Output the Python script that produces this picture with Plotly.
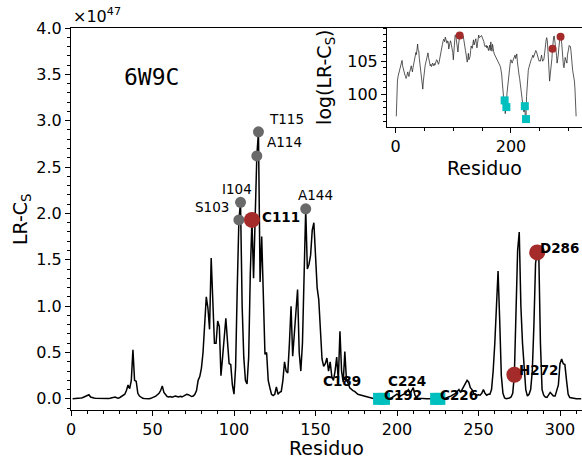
import numpy as np
import plotly.graph_objects as go

# ---------------- data ----------------
residues = list(range(1, 314))
# LR-Cs per residue, in units of 1e47
lrcs = [
    0.00001, 0.0006, 0.002, 0.004, 0.006, 0.009, 0.013, 0.02, 0.03, 0.042,
    0.045, 0.02, 0.012, 0.009, 0.006, 0.005, 0.004, 0.003, 0.004, 0.006,
    0.008, 0.005, 0.004, 0.007, 0.01, 0.014, 0.02, 0.012, 0.008, 0.015,
    0.025, 0.04, 0.05, 0.09, 0.15, 0.11, 0.2, 0.53, 0.2, 0.19,
    0.06, 0.03, 0.015, 0.006, 0.004, 0.0015, 0.0006, 0.002, 0.006, 0.012,
    0.02, 0.03, 0.045, 0.06, 0.09, 0.14, 0.07, 0.04, 0.025, 0.02,
    0.025, 0.018, 0.022, 0.03, 0.025, 0.02, 0.028, 0.022, 0.03, 0.04,
    0.05, 0.045, 0.03, 0.025, 0.03, 0.05, 0.09, 0.2, 0.24, 0.33,
    0.5, 0.75, 1.1, 0.98, 0.75, 1.52, 1.12, 0.6, 0.6, 0.84,
    0.78, 0.25, 0.45, 0.68, 0.87, 0.62, 0.38, 0.37, 0.15, 0.05,
    0.35, 1.2, 1.93, 2.12, 1.0, 0.45, 0.2, 0.16, 0.45, 1.35,
    1.93, 1.3, 2.0, 2.62, 2.88, 1.26, 1.75, 1.1, 0.48, 0.5,
    0.2, 0.12, 0.05, 0.035, 0.05, 0.13, 0.05, 0.07, 0.08, 0.2,
    0.4, 0.3, 0.28, 0.6, 1.0, 0.46, 0.7, 0.9, 1.18, 0.5,
    0.3, 0.6, 1.2, 2.05, 1.4, 1.45, 1.55, 1.82, 1.9, 1.5,
    1.2, 1.07, 0.75, 0.43, 0.35, 0.38, 0.44, 0.3, 0.4, 0.24,
    0.2, 0.3, 0.45, 0.2, 0.73, 0.3, 0.18, 0.51, 0.2, 0.17,
    0.12, 0.1, 0.09, 0.08, 0.06, 0.05, 0.045, 0.04, 0.03, 0.03,
    0.02, 0.015, 0.01, 0.005, 0.0015, 0.0004, 0.0002, 0.00008, 0.00011, 0.000015,
    0.00003, 0.00004, 0.0003, 0.0008, 0.002, 0.006, 0.015, 0.03, 0.04, 0.05,
    0.04, 0.03, 0.04, 0.05, 0.06, 0.08, 0.1, 0.06, 0.09, 0.12,
    0.04, 0.015, 0.008, 0.005, 0.003, 0.0015, 0.0008, 0.0002, 0.0001, 0.00005,
    0.00003, 0.00002, 0.00002, 0.000046, 0.000005, 0.0000066, 0.0002, 0.001, 0.004, 0.01,
    0.015, 0.022, 0.03, 0.04, 0.05, 0.06, 0.08, 0.1, 0.07, 0.1,
    0.13, 0.16, 0.2, 0.18, 0.12, 0.1, 0.06, 0.05, 0.04, 0.045,
    0.04, 0.06, 0.1, 0.06, 0.04, 0.05, 0.05, 0.1, 0.3, 0.6,
    1.0, 1.38, 0.85, 0.25, 0.06, 0.01, 0.002, 0.005, 0.01, 0.02,
    0.06, 0.26, 1.0, 1.6, 1.8, 1.0, 0.6, 0.3, 0.1, 0.03,
    0.05, 0.1, 0.3, 0.8, 1.46, 1.58, 1.55, 0.6, 0.1, 0.04,
    0.02, 0.015, 0.04, 0.07, 0.05, 0.03, 0.03, 0.1, 0.15, 0.38,
    0.43, 0.38, 0.37, 0.2, 0.05, 0.015, 0.01, 0.006, 0.004, 0.002,
    0.0006, 0.0001, 0.00001,
]
scale_exp = 47

gray_res = [103, 104, 114, 115, 144]
gray_lab = ["S103", "I104", "A114", "T115", "A144"]
red_res = [111, 272, 286]
red_lab = ["C111", "H272", "D286"]
cyan_res = [189, 192, 224, 226]
cyan_lab = ["C189", "C192", "C224", "C226"]

# ---------------- derived ----------------
val = dict(zip(residues, lrcs))
log_val = {r: float(np.log(v * 10.0 ** scale_exp)) for r, v in val.items()}

# label styles (anchor, x offset px, y offset px)
label_style = {
    "S103": ("right", -8, 13), "I104": ("center", -4, 13),
    "A114": ("left", 8, 14), "T115": ("left", 9, 13),
    "A144": ("center", 10, 14),
    "C111": ("left", 8, 3), "H272": ("left", 3, 5), "D286": ("left", 1, 4),
    "C189": ("right", -16, 18), "C192": ("left", -2, 4),
    "C224": ("right", -8, 18), "C226": ("left", -1, 4),
}

FONT = "DejaVu Sans"
RED = "#A52A2A"
CYAN = "#00BFBF"
GRAY = "#696969"

fig = go.Figure()

# main
fig.add_trace(go.Scatter(x=residues, y=lrcs, mode="lines",
                         line=dict(color="black", width=1.5), xaxis="x", yaxis="y"))
fig.add_trace(go.Scatter(x=gray_res, y=[val[r] for r in gray_res], mode="markers",
                         marker=dict(color=GRAY, size=11), xaxis="x", yaxis="y"))
fig.add_trace(go.Scatter(x=red_res, y=[val[r] for r in red_res], mode="markers",
                         marker=dict(color=RED, size=16), xaxis="x", yaxis="y"))
fig.add_trace(go.Scatter(x=cyan_res, y=[val[r] for r in cyan_res], mode="markers",
                         marker=dict(color=CYAN, size=12, symbol="square"),
                         xaxis="x", yaxis="y"))

# inset
fig.add_trace(go.Scatter(x=residues, y=[log_val[r] for r in residues], mode="lines",
                         line=dict(color="#222222", width=0.75), xaxis="x2", yaxis="y2"))
fig.add_trace(go.Scatter(x=red_res, y=[log_val[r] for r in red_res], mode="markers",
                         marker=dict(color=RED, size=8), xaxis="x2", yaxis="y2"))
fig.add_trace(go.Scatter(x=cyan_res, y=[log_val[r] for r in cyan_res], mode="markers",
                         marker=dict(color=CYAN, size=8, symbol="square"),
                         xaxis="x2", yaxis="y2"))

ann = []
for labs, ress, bold in ((gray_lab, gray_res, False), (red_lab, red_res, True),
                         (cyan_lab, cyan_res, True)):
    for lab, r in zip(labs, ress):
        anc, dx, dy = label_style[lab]
        ann.append(dict(x=r, y=val[r], xref="x", yref="y", showarrow=False,
                        text=f"<b>{lab}</b>" if bold else lab,
                        xanchor=anc, yanchor="middle", xshift=dx, yshift=dy,
                        font=dict(family=FONT, size=13.5, color="black")))

ann += [
    dict(x=0.1566, y=0.873, xref="paper", yref="paper", showarrow=False, text="6W9C",
         xanchor="center", yanchor="middle",
         font=dict(family="DejaVu Sans Mono", size=23, color="black")),
    dict(x=0, y=1, xref="paper", yref="paper", showarrow=False,
         text=f"×10<sup>{scale_exp}</sup>", xanchor="left", yanchor="bottom", xshift=0, yshift=0,
         font=dict(family=FONT, size=16, color="black")),
    dict(x=0.5, y=-0.0995, xref="paper", yref="paper", showarrow=False, text="Residuo",
         xanchor="center", yanchor="middle", font=dict(family=FONT, size=19, color="black")),
    dict(x=-0.0978, y=0.5, xref="paper", yref="paper", showarrow=False,
         text="LR-C<sub>S</sub>", textangle=-90, xanchor="center", yanchor="middle",
         font=dict(family=FONT, size=19, color="black")),
    dict(x=0.809, y=0.6335, xref="paper", yref="paper", showarrow=False, text="Residuo",
         xanchor="center", yanchor="middle", font=dict(family=FONT, size=19, color="black")),
    dict(x=0.499, y=0.872, xref="paper", yref="paper", showarrow=False,
         text="log(LR-C<sub>S</sub>)", textangle=-90, xanchor="center", yanchor="middle",
         font=dict(family=FONT, size=19, color="black")),
]

axis_common = dict(showline=True, linecolor="black", linewidth=1, ticks="outside",
                   tickcolor="black", tickwidth=1, showgrid=False, zeroline=False,
                   tickfont=dict(family=FONT, size=16, color="black"))

fig.update_layout(
    width=582, height=462,
    margin=dict(l=71, r=0, t=28, b=52),
    paper_bgcolor="white", plot_bgcolor="white",
    showlegend=False,
    font=dict(family=FONT, color="black"),
    xaxis=dict(domain=[0, 1], range=[0, 313.5], tick0=0, dtick=50, ticklen=5, mirror=True,
               minor=dict(dtick=10, tick0=0, ticks="outside", ticklen=3, tickcolor="black"),
               **axis_common),
    yaxis=dict(domain=[0, 1], range=[-0.12, 4.0], tick0=0, dtick=0.5, tickformat=".1f",
               ticklen=5,
               minor=dict(dtick=0.1, tick0=0, ticks="outside", ticklen=3, tickcolor="black"),
               **axis_common),
    xaxis2=dict(domain=[0.6184, 1], anchor="y2", range=[-15.1, 323.2],
                tickmode="array", tickvals=[0, 200], ticklen=5,
                minor=dict(tickmode="array", tickvals=[50, 100, 150, 250, 300],
                           ticks="outside", ticklen=3, tickcolor="black"),
                **axis_common),
    yaxis2=dict(domain=[0.7408, 1], anchor="x2", range=[95.1, 110.0],
                tickmode="array", tickvals=[100, 105], ticklen=5,
                minor=dict(dtick=1, tick0=95, ticks="outside", ticklen=3, tickcolor="black"),
                **axis_common),
    annotations=ann,
)

fig.write_html("out.html", config={"displayModeBar": False},
               post_script="document.body.style.margin='0px';")
